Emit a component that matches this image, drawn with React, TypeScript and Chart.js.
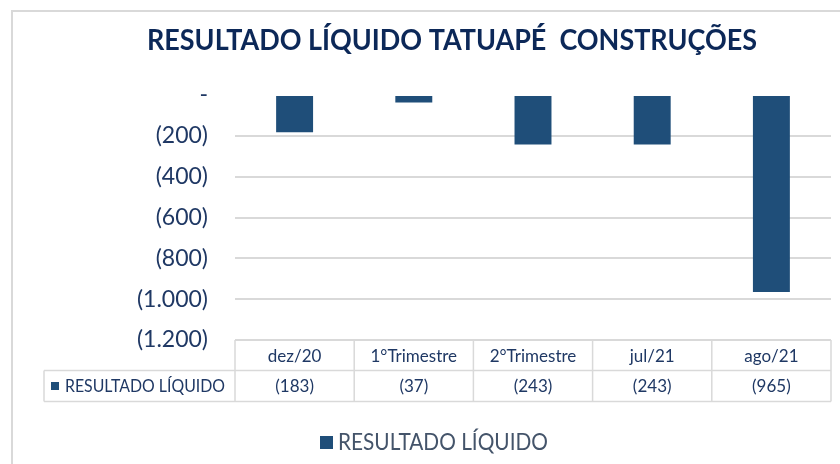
import React, { useEffect, useRef } from "react";
import { Chart, registerables } from "chart.js";

Chart.register(...registerables);

const chartTitle = "RESULTADO LÍQUIDO TATUAPÉ  CONSTRUÇÕES";
const seriesName = "RESULTADO LÍQUIDO";
const categories = ["dez/20", "1°Trimestre", "2°Trimestre", "jul/21", "ago/21"];
const values = [-183, -37, -243, -243, -965];
const yMin = -1200;
const yMax = 0;
const yStep = 200;

const barColor = "#1F4E79";
const titleColor = "#0C2858";
const tickColor = "#1F3864";
const gridColor = "#D9D9D9";
const legendTextColor = "#44546A";
const FONT = "Lato, 'Open Sans', sans-serif";

function fmt(v: number): string {
  if (v === 0) return "-";
  const s = Math.abs(v).toString().replace(/\B(?=(\d{3})+(?!\d))/g, ".");
  return v < 0 ? `(${s})` : s;
}

const decorPlugin = {
  id: "decor",
  beforeDraw(chart: any) {
    const ctx = chart.ctx;
    ctx.save();
    ctx.fillStyle = "#FFFFFF";
    ctx.fillRect(0, 0, chart.width, chart.height);
    ctx.strokeStyle = gridColor;
    ctx.lineWidth = 2;
    ctx.strokeRect(12, 11, chart.width + 20, chart.height + 20);
    ctx.restore();
  },
  afterDraw(chart: any) {
    const ctx = chart.ctx;
    const { left, right, bottom } = chart.chartArea;
    const n = categories.length;
    const cw = (right - left) / n;
    const top = bottom;
    const r1 = top + 30.5;
    const r2 = r1 + 31;
    const labelLeft = 44;
    ctx.save();
    // title
    ctx.fillStyle = titleColor;
    ctx.font = `bold 28px ${FONT}`;
    ctx.textAlign = "center";
    ctx.textBaseline = "middle";
    ctx.fillText(chartTitle, 452, 41, 610);

    // table lines
    ctx.strokeStyle = gridColor;
    ctx.lineWidth = 1.5;
    ctx.beginPath();
    ctx.moveTo(left, top);
    ctx.lineTo(right, top);
    ctx.moveTo(labelLeft, r1);
    ctx.lineTo(right, r1);
    ctx.moveTo(labelLeft, r2);
    ctx.lineTo(right, r2);
    for (let i = 0; i <= n; i++) {
      const x = left + i * cw;
      ctx.moveTo(x, top);
      ctx.lineTo(x, r2);
    }
    ctx.moveTo(labelLeft, r1);
    ctx.lineTo(labelLeft, r2);
    ctx.stroke();

    // table text
    ctx.fillStyle = tickColor;
    ctx.font = `17px ${FONT}`;
    ctx.textAlign = "center";
    ctx.textBaseline = "middle";
    for (let i = 0; i < n; i++) {
      const cx = left + (i + 0.5) * cw;
      ctx.fillText(categories[i], cx, (top + r1) / 2 + 1, 92);
      ctx.fillText(fmt(values[i]), cx, (r1 + r2) / 2 + 1, cw - 6);
    }
    ctx.fillStyle = barColor;
    ctx.fillRect(51, (r1 + r2) / 2 - 4, 8, 8);
    ctx.fillStyle = tickColor;
    ctx.textAlign = "left";
    ctx.fillText(seriesName, 65, (r1 + r2) / 2 + 1, 160);

    // legend
    ctx.fillStyle = barColor;
    ctx.fillRect(320, 436, 13, 13);
    ctx.fillStyle = legendTextColor;
    ctx.font = `23px ${FONT}`;
    ctx.textAlign = "left";
    ctx.fillText(seriesName, 338, 443, 210);
    ctx.restore();
  },
};

export default function App() {
  const ref = useRef<HTMLCanvasElement>(null);
  useEffect(() => {
    if (!ref.current) return;
    const chart = new Chart(ref.current, {
      type: "bar",
      data: {
        labels: categories,
        datasets: [
          {
            label: seriesName,
            data: values,
            backgroundColor: barColor,
            barPercentage: 0.31,
            categoryPercentage: 1,
          },
        ],
      },
      options: {
        responsive: false,
        animation: false,
        layout: { padding: { left: 12, right: 9, top: 95, bottom: 124 } },
        plugins: {
          legend: { display: false },
          title: { display: false },
          tooltip: { enabled: false },
        },
        scales: {
          x: { display: false },
          y: {
            min: yMin,
            max: yMax,
            ticks: {
              stepSize: yStep,
              callback: (v: any) => fmt(Number(v)),
              color: tickColor,
              font: { family: FONT, size: 23 },
              padding: 27,
            },
            grid: {
              color: (c: any) => (c.tick && c.tick.value === 0 ? "rgba(0,0,0,0)" : gridColor),
              lineWidth: 2,
              drawTicks: false,
            },
            border: { display: false },
            afterFit: (s: any) => {
              s.width = 223;
            },
          },
        },
      },
      plugins: [decorPlugin],
    });
    return () => chart.destroy();
  }, []);
  return (
    <div style={{ position: "absolute", left: 0, top: 0 }}>
      <canvas ref={ref} width={840} height={464} style={{ display: "block" }} />
    </div>
  );
}
